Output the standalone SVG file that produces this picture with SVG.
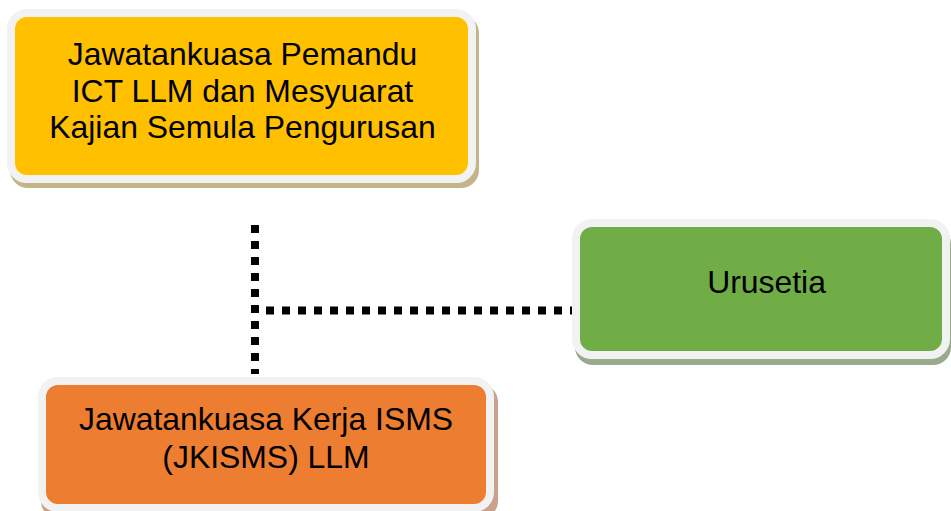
<svg xmlns="http://www.w3.org/2000/svg" width="951" height="511" viewBox="0 0 951 511">
<style>
.box{stroke:#f2f2f2;stroke-width:8}
.t{font-family:"Liberation Sans",Arial,sans-serif;font-size:31.9px;fill:#000;text-anchor:middle}
.conn{stroke:#000;stroke-width:8;stroke-dasharray:8 8;fill:none}
</style>
<rect width="951" height="511" fill="#fff"/>
<g id="connectors">
<line class="conn" x1="255" y1="225" x2="255" y2="374"/>
<line class="conn" x1="266" y1="310.5" x2="572" y2="310.5"/>
</g>
<g id="node-pemandu">
<rect x="10" y="15" width="469" height="173" rx="18" fill="#c4b48a"/>
<rect class="box" x="11" y="13" width="461" height="166" rx="16" fill="#ffc000"/>
<text class="t" x="242.5" y="65">Jawatankuasa Pemandu</text>
<text class="t" x="242.5" y="101.5">ICT LLM dan Mesyuarat</text>
<text class="t" x="242.5" y="138">Kajian Semula Pengurusan</text>
</g>
<g id="node-urusetia">
<rect x="575" y="226" width="376" height="139" rx="18" fill="#9aaa8c"/>
<rect class="box" x="576" y="223" width="370" height="132" rx="16" fill="#70ad47"/>
<text class="t" x="766.5" y="293">Urusetia</text>
</g>
<g id="node-jkisms">
<rect x="41" y="384" width="457" height="135" rx="18" fill="#c8a28a"/>
<rect class="box" x="42" y="381" width="448" height="127" rx="16" fill="#ed7d31"/>
<text class="t" x="266" y="430">Jawatankuasa Kerja ISMS</text>
<text class="t" x="266" y="467.5">(JKISMS) LLM</text>
</g>
</svg>
